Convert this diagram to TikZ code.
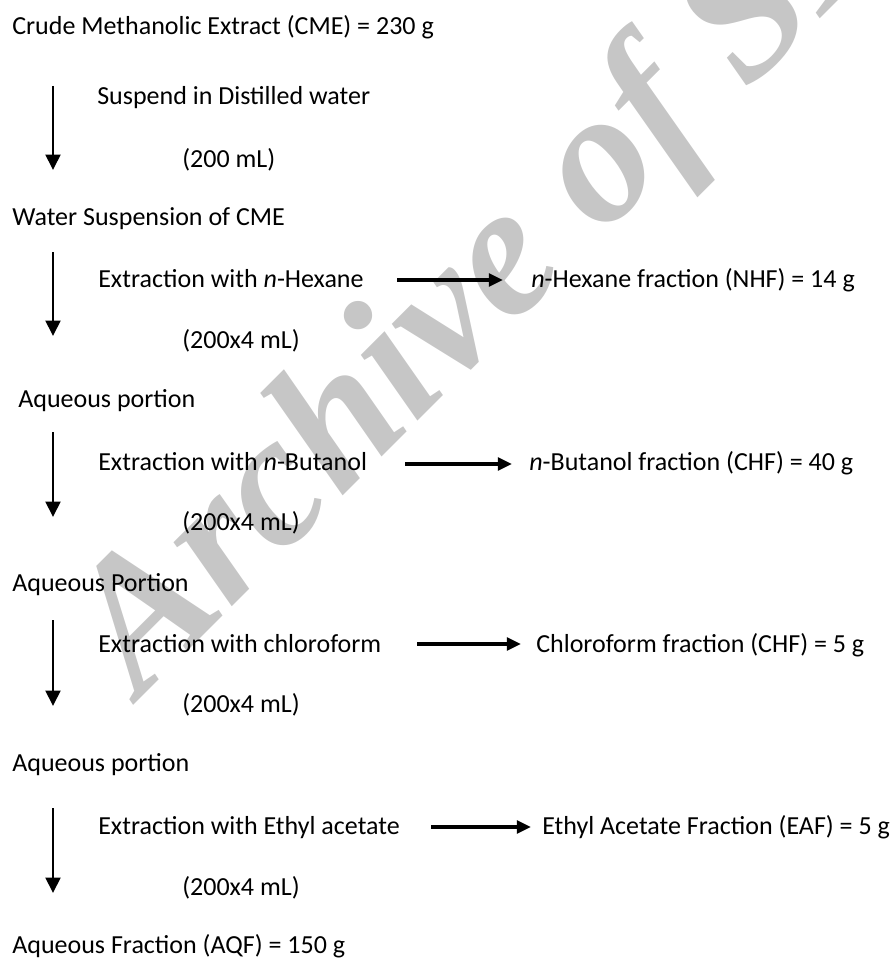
\documentclass[tikz,border=0pt]{standalone}
\usepackage{fontspec}
\setmainfont{Carlito}
\newfontfamily\wmfont{Liberation Serif}
\usepackage{tikz}
\usetikzlibrary{arrows.meta}
\definecolor{wmgray}{RGB}{198,198,198}

\tikzset{
    txt/.style={anchor=base west, inner sep=0pt, font=\fontsize{18.5}{22}\selectfont},
    downarrow/.style={line width=2pt, -{Triangle[length=11pt,width=10.5pt]}},
    sidearrow/.style={line width=2.2pt, -{Triangle[length=10pt,width=9pt]}}
}

\begin{document}
\begin{tikzpicture}[x=0.025cm, y=-0.025cm]
    \clip (0,0) rectangle (893,959);

    \node[anchor=base west, inner sep=0pt, rotate=45, text=wmgray,
          font=\wmfont\bfseries\itshape\fontsize{134}{134}\selectfont] (wm) at (140,699) {Archive of SID};

    \node[txt] (cme) at (12,35) {Crude Methanolic Extract (CME) = 230 g};
    \node[txt] (susp) at (97,105) {Suspend in Distilled water};
    \node[txt] (vol1) at (182,167) {(200 mL)};
    \node[txt] (wsc) at (12,225) {Water Suspension of CME};

    \node[txt] (exhex) at (98,287) {Extraction with \textit{n}-Hexane};
    \node[txt] (nhf) at (531,287) {\textit{n}-Hexane fraction (NHF) = 14 g};
    \node[txt] (vol2) at (182,348) {(200x4 mL)};
    \node[txt] (aq1) at (18,407) {Aqueous portion};

    \node[txt] (exbut) at (98,470) {Extraction with \textit{n}-Butanol};
    \node[txt] (nbf) at (529,470) {\textit{n}-Butanol fraction (CHF) = 40 g};
    \node[txt] (vol3) at (182,530) {(200x4 mL)};
    \node[txt] (aq2) at (12,591) {Aqueous Portion};

    \node[txt] (exchl) at (98,652) {Extraction with chloroform};
    \node[txt] (chf) at (536,652) {Chloroform fraction (CHF) = 5 g};
    \node[txt] (vol4) at (182,712) {(200x4 mL)};
    \node[txt] (aq3) at (12,771) {Aqueous portion};

    \node[txt] (exeth) at (98,834) {Extraction with Ethyl acetate};
    \node[txt] (eaf) at (542,834) {Ethyl Acetate Fraction (EAF) = 5 g};
    \node[txt] (vol5) at (182,895) {(200x4 mL)};
    \node[txt] (aqf) at (12,953) {Aqueous Fraction (AQF) = 150 g};

    \coordinate (d1s) at (53,86);
    \coordinate (d1e) at (53,170);
    \coordinate (d2s) at (53,252);
    \coordinate (d2e) at (53,336);
    \coordinate (d3s) at (53,432);
    \coordinate (d3e) at (53,517);
    \coordinate (d4s) at (53,620);
    \coordinate (d4e) at (53,706);
    \coordinate (d5s) at (53,808);
    \coordinate (d5e) at (53,893);

    \draw[downarrow] (d1s) -- (d1e);
    \draw[downarrow] (d2s) -- (d2e);
    \draw[downarrow] (d3s) -- (d3e);
    \draw[downarrow] (d4s) -- (d4e);
    \draw[downarrow] (d5s) -- (d5e);

    \coordinate (h1s) at (397,280);
    \coordinate (h1e) at (503,280);
    \coordinate (h2s) at (405,464);
    \coordinate (h2e) at (512,464);
    \coordinate (h3s) at (417,644);
    \coordinate (h3e) at (521,644);
    \coordinate (h4s) at (431,827);
    \coordinate (h4e) at (531,827);

    \draw[sidearrow] (h1s) -- (h1e);
    \draw[sidearrow] (h2s) -- (h2e);
    \draw[sidearrow] (h3s) -- (h3e);
    \draw[sidearrow] (h4s) -- (h4e);

\end{tikzpicture}
\end{document}
